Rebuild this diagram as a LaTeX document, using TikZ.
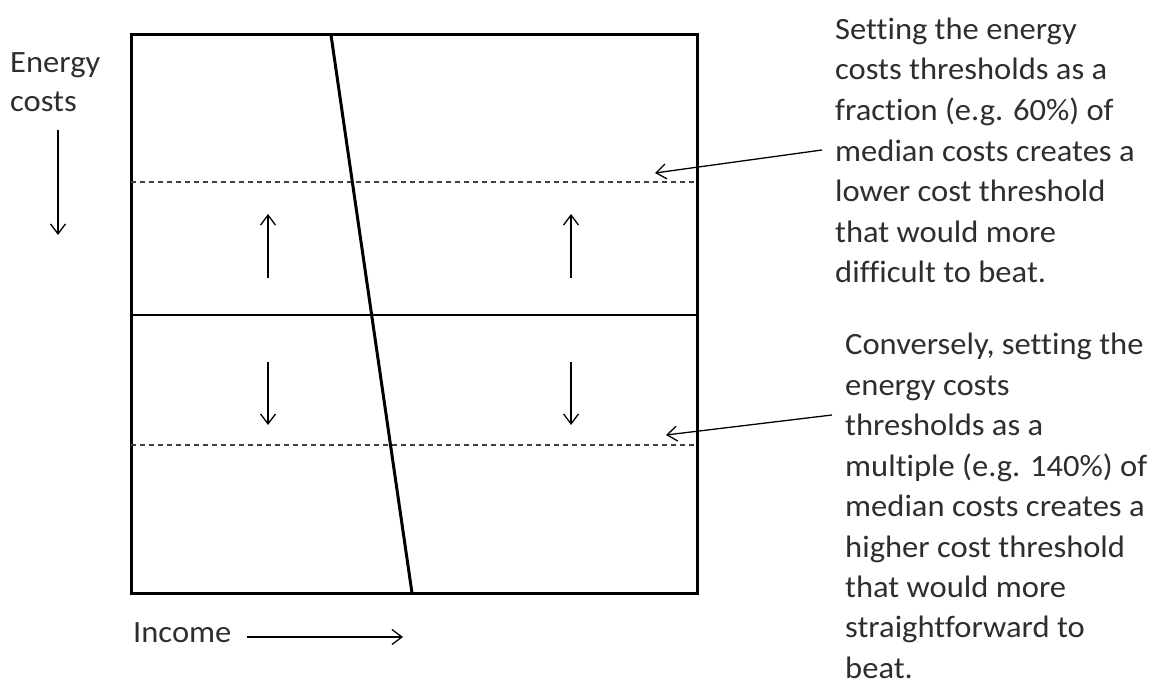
\documentclass[tikz,border=0pt]{standalone}
\usepackage{fontspec}
\setmainfont{Carlito}[FakeStretch=1.05,Ligatures=NoCommon]
\usetikzlibrary{arrows.meta}
\begin{document}
\begin{tikzpicture}[x=1pt,y=-1pt,
  frame/.style={line width=3pt},
  midline/.style={line width=2pt},
  thresh/.style={line width=1.2pt,dash pattern=on 5pt off 4pt,black!75},
  arr/.style={line width=1.3pt,-{Straight Barb[length=10pt,width=15pt,line width=1.3pt]}},
  lbl/.style={font=\fontsize{31}{40}\selectfont,inner sep=0pt,text=black!82,anchor=base west}]
\useasboundingbox (0,0) rectangle (1152,684);
\coordinate (tl) at (131,35);
\coordinate (br) at (697,593);
\draw[frame] (tl) rectangle (br);
\coordinate (ml) at (131,315);
\coordinate (mr) at (697,315);
\draw[midline] (ml) -- (mr);
\coordinate (d1l) at (131,182);
\coordinate (d1r) at (697,182);
\coordinate (d2l) at (131,445);
\coordinate (d2r) at (697,445);
\draw[thresh] (d1l) -- (d1r);
\draw[thresh] (d2l) -- (d2r);
\coordinate (st) at (331,35);
\coordinate (sb) at (412,593);
\draw[frame] (st) -- (sb);
% up and down arrows
\coordinate (u1a) at (268,278); \coordinate (u1b) at (268,214);
\coordinate (u2a) at (571,278); \coordinate (u2b) at (571,214);
\coordinate (v1a) at (268,362); \coordinate (v1b) at (268,425);
\coordinate (v2a) at (571,362); \coordinate (v2b) at (571,425);
\draw[arr] (u1a) -- (u1b);
\draw[arr] (u2a) -- (u2b);
\draw[arr] (v1a) -- (v1b);
\draw[arr] (v2a) -- (v2b);
% axis labels
\node[lbl] (ec1) at (10,73) {Energy};
\node[lbl] (ec2) at (10,112) {costs};
\coordinate (ea) at (58,130); \coordinate (eb) at (58,235);
\draw[arr] (ea) -- (eb);
\node[lbl] (inc) at (133,642) {Income};
\coordinate (ia) at (247,637); \coordinate (ib) at (403,637);
\draw[arr] (ia) -- (ib);
% annotations
\foreach \t [count=\i from 0] in {Setting the energy,costs thresholds as a,fraction (e.g. 60\%) of,median costs creates a,lower cost threshold,that would more,difficult to beat.}
  \node[lbl] (t1-\i) at (835,{39.3+40.6*\i}) {\t};
\foreach \t [count=\i from 0] in {{Conversely, setting the},energy costs,thresholds as a,multiple (e.g. 140\%) of,median costs creates a,higher cost threshold,that would more,straightforward to,beat.}
  \node[lbl] (t2-\i) at (845,{355+40.4*\i}) {\t};
\coordinate (a1) at (822,150); \coordinate (a1e) at (655,173);
\coordinate (a2) at (832,415); \coordinate (a2e) at (666,435);
\draw[arr] (a1) -- (a1e);
\draw[arr] (a2) -- (a2e);
\end{tikzpicture}
\end{document}
